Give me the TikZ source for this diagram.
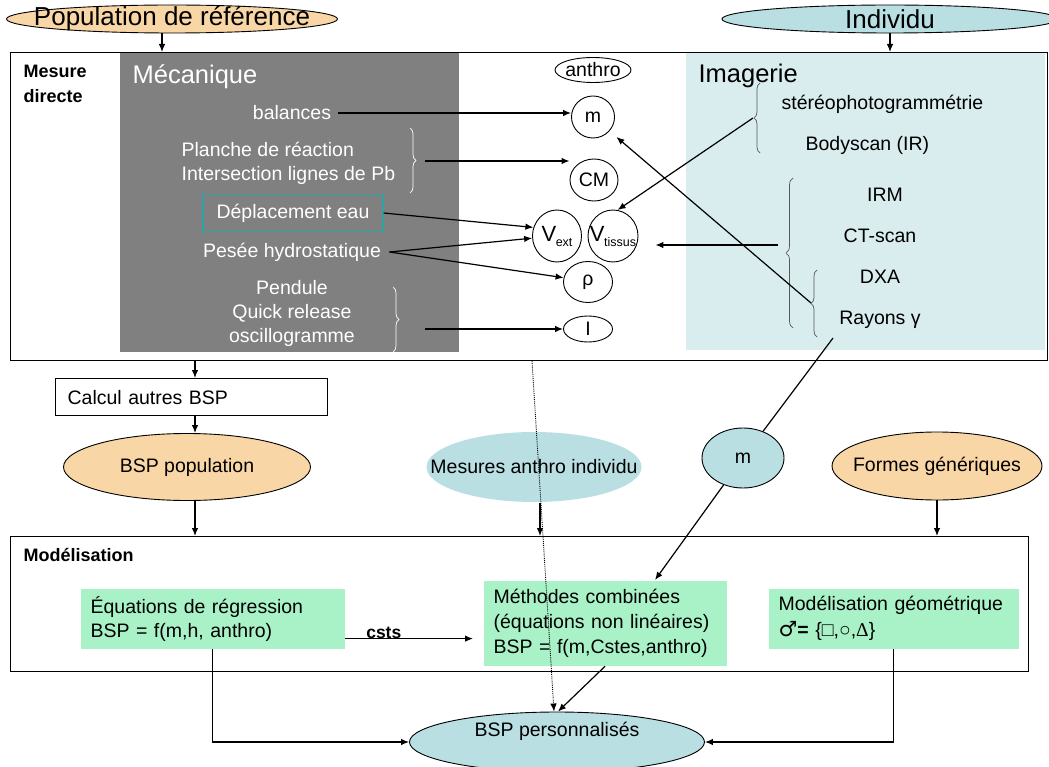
\documentclass[tikz,border=0pt]{standalone}
\usepackage{fontspec}
\setmainfont{Liberation Sans}
\newfontfamily\serifsym{Liberation Serif}
\newfontfamily\signesym{DejaVu Sans}
\usepackage{tikz}
\usetikzlibrary{arrows.meta}
\usetikzlibrary{shapes.geometric}
\usetikzlibrary{decorations.pathreplacing}
\usepackage{xcolor}
\definecolor{peche}{HTML}{F9D6A5}
\definecolor{bleuclair}{HTML}{B9DFE3}
\definecolor{bleufond}{HTML}{D9ECEE}
\definecolor{vertclair}{HTML}{A9F2C8}
\definecolor{gris}{HTML}{808080}
\definecolor{turquoise}{HTML}{2FA3A3}
\newcommand\Vind[1]{{\fontsize{22}{22}\selectfont V}\kern-0.5pt{\fontsize{12.5}{13}\selectfont\raisebox{-5pt}{#1}}}

\begin{document}
\begin{tikzpicture}[x=1pt,y=-1pt,>={Latex[length=8pt,width=6.5pt]},line width=1.2pt,
    txt/.style={font=\fontsize{19.5}{24}\selectfont, inner sep=0pt},
    big/.style={font=\fontsize{25.5}{28}\selectfont, inner sep=0pt},
    gras/.style={font=\bfseries\fontsize{18}{25}\selectfont, inner sep=0pt, align=left},
    bulle/.style={ellipse, draw, line width=0.9pt, inner sep=0pt},
    accolade/.style={decorate, decoration={brace, amplitude=6pt}, line width=0.7pt},
    vert/.style={txt, fill=vertclair, inner xsep=10pt, anchor=north west, align=left}]
    \useasboundingbox (0,0) rectangle (1049,767);
    % fonds
    \fill[gris] (120,52) rectangle (459,352);
    \fill[bleufond] (686,52) rectangle (1045,350);
    % grandes boites
    \node[draw, minimum width=1037pt, minimum height=308pt, anchor=north west, inner sep=0pt] (direct) at (10,52) {};
    \node[draw, minimum width=1018pt, minimum height=135pt, anchor=north west, inner sep=0pt] (model) at (10,536) {};
    \node[gras, anchor=north west] (mdlab) at (23,65) {Mesure\\directe};
    \node[gras, anchor=north west] (modlab) at (23,548) {Modélisation};
    % en haut
    \node[bulle, fill=peche, minimum width=331pt, minimum height=28pt] (pop) at (172,19) {};
    \node[big, font=\fontsize{26}{28}\selectfont] (pop-t) at (pop) {Population de référence};
    \node[bulle, fill=bleuclair, minimum width=336pt, minimum height=28pt] (indiv) at (890,19) {};
    \node[big, font=\fontsize{26}{28}\selectfont] (indiv-t) at (indiv) {Individu};
    % mecanique
    \node[big, text=white, anchor=west] (meca) at (132,77) {Mécanique};
    \node[txt, text=white, inner xsep=6pt] (bal) at (292,113) {balances};
    \node[txt, text=white, align=left, anchor=west] (planche) at (181,163) {Planche de réaction\\Intersection lignes de Pb};
    \node[txt, text=white, draw=turquoise, line width=1.2pt, minimum width=180pt, minimum height=37pt] (dep) at (293,213) {Déplacement eau};
    \node[txt, text=white, inner xsep=8pt] (pesee) at (292,252) {Pesée hydrostatique};
    \node[txt, text=white, align=center] (pend) at (292,313) {Pendule\\Quick release\\oscillogramme};
    \draw[accolade, white] (410,128) -- (410,193);
    \draw[accolade, white] (393,287) -- (393,352);
    \coordinate (accA) at (425,161);
    \coordinate (accP) at (425,329);
    % grandeurs
    \node[bulle, minimum width=76pt, minimum height=25pt] (anthro) at (593,70) {};
    \node[txt] (anthro-t) at (anthro) {anthro};
    \node[bulle, minimum width=43pt, minimum height=42pt] (m) at (593,117) {};
    \node[txt] (m-t) at (m) {m};
    \node[bulle, minimum width=48pt, minimum height=42pt] (CM) at (594,180) {};
    \node[txt] (CM-t) at (CM) {CM};
    \node[bulle, minimum width=49pt, minimum height=52pt] (Vext) at (557,236) {};
    \node[txt] (Vext-t) at (Vext) {\Vind{ext}};
    \node[bulle, minimum width=50pt, minimum height=52pt] (Vtis) at (613,236) {};
    \node[txt] (Vtis-t) at (Vtis) {\Vind{tissus}};
    \node[bulle, minimum width=49pt, minimum height=41pt] (rho) at (588,282) {};
    \node[txt] (rho-t) at (rho) {ρ};
    \node[bulle, minimum width=49pt, minimum height=26pt] (I) at (588,329) {};
    \node[txt] (I-t) at (I) {I};
    % imagerie
    \node[big, anchor=west] (imag) at (698,76) {Imagerie};
    \node[txt, anchor=west] (stereo) at (781,104) {stéréophotogrammétrie};
    \node[txt, anchor=west] (body) at (805,145) {Bodyscan (IR)};
    \node[txt] (irm) at (885,195) {IRM};
    \node[txt] (ct) at (880,236) {CT-scan};
    \node[txt] (dxa) at (880,277) {DXA};
    \node[txt] (ray) at (880,320) {Rayons γ};
    \draw[accolade, black!65] (760,153) -- (760,83);
    \draw[accolade, black!65, decoration={amplitude=7pt}] (793,328) -- (793,178);
    \draw[accolade, black!65] (817,337) -- (817,270);
    \coordinate (accS) at (753,118);
    \coordinate (accI) at (778,245);
    \coordinate (accD) at (811,303);
    \coordinate (rayend) at (833,338);
    % fleches mesure directe
    \draw[->] ([xshift=-10pt]pop.south) -- ([xshift=-10pt]pop.south |- direct.north);
    \draw[->] (indiv.south) -- (indiv.south |- direct.north);
    \draw[->] (bal.east) -- (bal.east -| m.west);
    \draw[->] (accA) -- (accA -| CM.west);
    \draw[->] (dep.east) -- (Vext.160);
    \draw[->] (pesee.east) -- (Vext.185);
    \draw[->] (pesee.east) -- (rho.170);
    \draw[->] (accP) -- (I.west);
    \draw[->] (accS) -- (Vtis.80);
    \draw[->, shorten >=17pt] (accI) -- (accI -| Vtis.east);
    \draw[->, shorten >=9pt] (accD) -- (m);
    % milieu
    \node[txt, draw, text width=248pt, inner xsep=12pt, minimum height=37pt, anchor=north west, align=left] (calc) at (55,378) {Calcul autres BSP};
    \node[bulle, fill=peche, minimum width=247pt, minimum height=67pt] (bpop) at (187,467) {};
    \node[txt] (bpop-t) at (bpop) {BSP population};
    \node[ellipse, fill=bleuclair, minimum width=215pt, minimum height=70pt, inner sep=0pt] (mai) at (534,467) {};
    \node[txt] (mai-t) at (mai) {Mesures anthro individu};
    \node[bulle, fill=bleuclair, minimum width=82pt, minimum height=60pt] (bm) at (743,458) {};
    \node[txt] (bm-t) at (bm) {m};
    \node[bulle, fill=peche, minimum width=210pt, minimum height=68pt] (fg) at (937,466) {};
    \node[txt] (fg-t) at (fg) {Formes génériques};
    \coordinate (colA) at (195,0);
    \draw[->] (direct.south -| colA) -- (calc.north -| colA);
    \draw[->] (calc.south -| colA) -- (bpop.north -| colA);
    \draw[->] (bpop.south -| colA) -- (model.north -| colA);
    \draw[->] ([xshift=6pt]mai.south) -- ([xshift=6pt]mai.south |- model.north);
    \draw[->] (fg.south) -- (fg.south |- model.north);
    % modelisation
    \node[vert, text width=244pt, minimum height=60pt] (eq) at (80,588) {Équations de régression\\BSP = f(m,h, anthro)};
    \node[vert, text width=223pt, minimum height=85pt, font=\fontsize{19.5}{25}\selectfont] (meth) at (483,580) {Méthodes combinées\\(équations non linéaires)\\BSP = f(m,Cstes,anthro)};
    \node[vert, text width=230pt, minimum height=60pt] (geo) at (768,588) {Modélisation géométrique\\[2pt]{\signesym\fontsize{21}{24}\selectfont ♂}\textbf{=} \{{\serifsym □},{\serifsym ○},{\serifsym Δ}\}};
    \node[bulle, fill=bleuclair, minimum width=295pt, minimum height=60pt] (bsp) at (557,742) {};
    \node[txt] (bsp-t) at (557,731) {BSP personnalisés};
    \coordinate (methin) at (655,580);
    \coordinate (pointille) at (532,361);
    \draw (rayend) -- (bm);
    \draw[->] (bm) -- (methin);
    \draw[->, shorten >=10pt] ([yshift=-20pt]eq.east) -- ([yshift=-20pt]eq.east -| meth.west) node[pos=0.28, above=-1pt, gras, font=\bfseries\fontsize{17.5}{20}\selectfont] (csts) {csts};
    \draw[->] (eq.south) |- (bsp.west);
    \draw[->] (geo.south) |- (bsp.east);
    \draw[->] (meth.south) -- ([xshift=1pt]bsp.north);
    \draw[->, densely dotted, line width=0.9pt] (pointille) -- ([xshift=-3pt]bsp.north);
\end{tikzpicture}
\end{document}
